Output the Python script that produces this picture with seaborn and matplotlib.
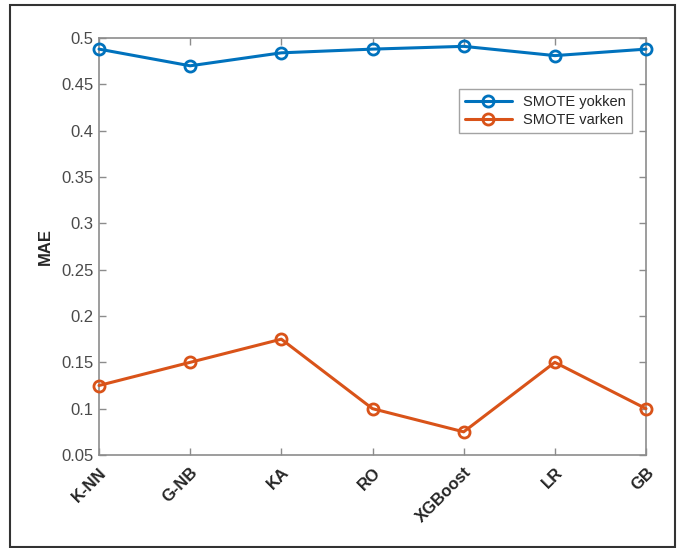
import matplotlib
matplotlib.use("Agg")
import matplotlib.pyplot as plt
import seaborn as sns
import pandas as pd
from matplotlib.patches import Rectangle

categories = ["K-NN", "G-NB", "KA", "RO", "XGBoost", "LR", "GB"]
smote_yokken = [0.488, 0.470, 0.484, 0.488, 0.491, 0.481, 0.488]
smote_varken = [0.125, 0.150, 0.175, 0.100, 0.075, 0.150, 0.100]
yticks = [0.05, 0.1, 0.15, 0.2, 0.25, 0.3, 0.35, 0.4, 0.45, 0.5]
ytick_labels = ["0.05", "0.1", "0.15", "0.2", "0.25", "0.3", "0.35", "0.4", "0.45", "0.5"]

sns.set_theme(style="white")
plt.rcParams["font.family"] = ["Liberation Sans", "DejaVu Sans"]

fig = plt.figure(figsize=(6.79, 5.48), dpi=100)
ax = fig.add_axes([99/679, 1-455/548, (646-99)/679, (455-38)/548])

df = pd.DataFrame({
    "pos": list(range(len(categories))) * 2,
    "MAE": smote_yokken + smote_varken,
    "series": ["SMOTE yokken"] * len(categories) + ["SMOTE varken"] * len(categories),
})
colors = {"SMOTE yokken": "#0072BD", "SMOTE varken": "#D95319"}
for name in ["SMOTE yokken", "SMOTE varken"]:
    sub = df[df["series"] == name]
    sns.lineplot(data=sub, x="pos", y="MAE", ax=ax, color=colors[name], marker="o",
                 markersize=8, markerfacecolor="none", markeredgecolor=colors[name],
                 markeredgewidth=2, linewidth=2.2, label=name, clip_on=False, zorder=3)

ax.set_xlim(0, len(categories) - 1)
ax.set_ylim(0.05, 0.5)
ax.set_xticks(range(len(categories)))
ax.set_xticklabels(categories, rotation=45, ha="right", rotation_mode="anchor",
                   fontweight="bold", fontsize=12, color="#262626")
ax.set_yticks(yticks)
ax.set_yticklabels(ytick_labels, fontsize=12, color="#4a4a4a")
ax.set_xlabel("")
ax.set_ylabel("MAE", fontweight="bold", fontsize=12, color="#262626", labelpad=6)

for s in ax.spines.values():
    s.set_color("#8c8c8c")
    s.set_linewidth(1.2)
ax.tick_params(direction="in", length=5, width=1, color="#8c8c8c",
               top=True, right=True, left=True, bottom=True)
ax.tick_params(axis="x", pad=7)
ax.tick_params(axis="y", pad=4)

leg = ax.legend(loc="upper right", bbox_to_anchor=(0.974, 0.878), borderaxespad=0,
                fontsize=10.5, frameon=True, fancybox=False, handlelength=3.2,
                labelspacing=0.3, borderpad=0.4)
leg.get_frame().set_edgecolor("#8c8c8c")
leg.get_frame().set_linewidth(1.0)
for t in leg.get_texts():
    t.set_color("#262626")

fig.patches.append(Rectangle((10/679, 1/548), (675-10)/679, (545-3)/548,
                             transform=fig.transFigure, fill=False,
                             edgecolor="#333333", linewidth=1.5))

fig.savefig("out.png", dpi=100)
